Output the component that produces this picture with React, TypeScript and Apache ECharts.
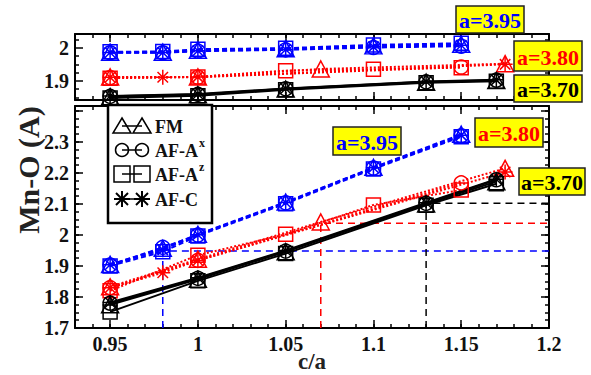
import React, { useEffect, useRef } from 'react';
import * as echarts from 'echarts';

const FONT = 'Liberation Serif, Times New Roman, serif';
const BLUE = '#0000ff';
const RED = '#ff0000';
const BLACK = '#000000';

// ---------- axes ----------
const xMin = 0.93;
const xMax = 1.2;
const xMajor = [0.95, 1.0, 1.05, 1.1, 1.15, 1.2];
const xMinor = Array.from({ length: 27 }, (_, i) => (94 + i) / 100);
const yTopMin = 1.842;
const yTopMax = 2.042;
const yTopMajor = [1.9, 2.0];
const yTopMinor = [1.85, 1.875, 1.925, 1.95, 1.975, 2.025];
const yBotMin = 1.7;
const yBotMax = 2.416;
const yBotMajor = [1.7, 1.8, 1.9, 2.0, 2.1, 2.2, 2.3, 2.4];
const yBotLabels = [1.7, 1.8, 1.9, 2.0, 2.1, 2.2, 2.3];
const yBotMinor = Array.from({ length: 29 }, (_, i) => Math.round((1.7 + i * 0.025) * 1000) / 1000);

// ---------- data: a = 3.95 (blue) ----------
const cBlue = [0.95, 0.98, 1.0, 1.05, 1.1, 1.15];
const blueFM = [1.905, 1.957, 2.002, 2.106, 2.218, 2.325];
const blueAx = [1.903, 1.960, 2.000, 2.104, 2.216, 2.320];
const blueAz = [1.900, 1.946, 1.997, 2.101, 2.213, 2.317];
const blueC = [1.904, 1.952, 2.001, 2.105, 2.217, 2.322];
const blueFMTop = [1.987, 1.987, 1.993, 1.997, 2.006, 2.011];
const blueAxTop = [1.985, 1.985, 1.990, 1.994, 2.001, 2.005];
const blueAzTop = [1.988, 1.989, 1.996, 1.999, 2.009, 2.014];
const blueCTop = [1.986, 1.986, 1.991, 1.995, 2.003, 2.008];

// ---------- data: a = 3.80 (red) ----------
const cRedFM = [0.95, 1.0, 1.07, 1.175];
const redFM = [1.833, 1.922, 2.042, 2.215];
const redFMTop = [1.912, 1.912, 1.936, 1.952];
const cRedAx = [0.95, 1.0, 1.15];
const redAx = [1.830, 1.918, 2.168];
const redAxTop = [1.910, 1.911, 1.942];
const cRedAz = [0.95, 1.0, 1.05, 1.1, 1.15];
const redAz = [1.820, 1.935, 2.002, 2.097, 2.145];
const redAzTop = [1.908, 1.912, 1.931, 1.935, 1.940];
const cRedC = [0.95, 0.98, 1.0, 1.175];
const redC = [1.830, 1.878, 1.918, 2.203];
const redCTop = [1.911, 1.911, 1.912, 1.950];

// ---------- data: a = 3.70 (black) ----------
const cBlack = [0.95, 1.0, 1.05, 1.13, 1.17];
const blackFM = [1.775, 1.857, 1.946, 2.100, 2.172];
const blackAx = [1.780, 1.860, 1.948, 2.102, 2.178];
const blackAz = [1.752, 1.852, 1.940, 2.096, 2.165];
const blackC = [1.782, 1.862, 1.950, 2.104, 2.180];
const blackFMTop = [1.852, 1.858, 1.875, 1.896, 1.901];
const blackAxTop = [1.853, 1.859, 1.876, 1.897, 1.902];
const blackAzTop = [1.848, 1.855, 1.873, 1.894, 1.899];
const blackCTop = [1.854, 1.860, 1.877, 1.898, 1.903];

// ---------- equilibrium guide lines ----------
const refC = [0.98, 1.07, 1.13];
const refV = [1.948, 2.038, 2.102];
const refColors = [BLUE, RED, BLACK];

const ASTERISK = 'path://M0,-10L0,10M-10,0L10,0M-7,-7L7,7M-7,7L7,-7';
const SYMBOLS: Record<string, [string, any]> = {
  FM: ['triangle', [17, 16]],
  AX: ['circle', 14],
  AZ: ['rect', 14],
  C: [ASTERISK, 15],
};

function mk(name: string, xs: number[], ys: number[], panel: number, color: string, dash: any, kind: string) {
  const [symbol, size] = SYMBOLS[kind];
  return {
    name,
    type: 'line',
    xAxisIndex: panel === 0 ? 0 : 4,
    yAxisIndex: panel === 0 ? 0 : 4,
    data: xs.map((x, i) => [x, ys[i]]),
    symbol,
    symbolSize: size,
    showSymbol: true,
    lineStyle: { color, width: 2, type: dash },
    itemStyle: { color: 'rgba(0,0,0,0)', borderColor: color, borderWidth: 1.5 },
    emphasis: { disabled: true },
    silent: true,
    z: 3,
  };
}

const BLUE_DASH = [5, 3];
const RED_DOT = [2, 2];

function xAx(gridIndex: number, position: string, ticks: number[], len: number, line: boolean, labels?: number[]) {
  return {
    type: 'value', gridIndex, position, min: xMin, max: xMax,
    axisLine: { show: line, onZero: false, lineStyle: { color: '#000', width: 2 } },
    axisTick: { show: true, inside: true, length: len, customValues: ticks, lineStyle: { color: '#000', width: 1.5 } },
    axisLabel: labels
      ? { show: true, customValues: labels, margin: 6, color: '#111', fontFamily: FONT, fontWeight: 'bold', fontSize: 20 }
      : { show: false },
    splitLine: { show: false },
  };
}
function yAx(gridIndex: number, position: string, min: number, max: number, ticks: number[], len: number, line: boolean, labels?: number[]) {
  return {
    type: 'value', gridIndex, position, min, max,
    axisLine: { show: line, onZero: false, lineStyle: { color: '#000', width: 2 } },
    axisTick: { show: true, inside: true, length: len, customValues: ticks, lineStyle: { color: '#000', width: 1.5 } },
    axisLabel: labels
      ? { show: true, customValues: labels, margin: 6, color: '#111', fontFamily: FONT, fontWeight: 'bold', fontSize: 20 }
      : { show: false },
    splitLine: { show: false },
  };
}

function yellowBox(label: string, color: string, x: number, y: number, w: number, h: number) {
  return [
    { type: 'rect', z: 100, shape: { x, y, width: w, height: h }, style: { fill: '#ffff00', stroke: '#222', lineWidth: 1.5 } },
    {
      type: 'text', z: 101, x: x + w / 2, y: y + h / 2 + 1,
      style: { text: label, fill: color, fontFamily: FONT, fontWeight: 'bold', fontSize: 22, align: 'center', verticalAlign: 'middle' },
    },
  ];
}

function legendItems() {
  const rows = [126, 150, 174, 199];
  const cx = [122, 142];
  const els: any[] = [
    { type: 'rect', z: 50, shape: { x: 108, y: 105, width: 104, height: 118 }, style: { fill: '#fff', stroke: '#000', lineWidth: 2.5 } },
  ];
  const lineStyle = { stroke: '#000', lineWidth: 1.5, fill: 'none' };
  rows.forEach((r) => {
    els.push({ type: 'line', z: 51, shape: { x1: cx[0], y1: r, x2: cx[1], y2: r }, style: lineStyle });
  });
  cx.forEach((c) => {
    els.push({ type: 'polygon', z: 52, shape: { points: [[c, rows[0] - 8], [c + 9, rows[0] + 7], [c - 9, rows[0] + 7]] }, style: lineStyle });
    els.push({ type: 'circle', z: 52, shape: { cx: c, cy: rows[1], r: 6.5 }, style: lineStyle });
    els.push({ type: 'rect', z: 52, shape: { x: c - 8, y: rows[2] - 8, width: 16, height: 16 }, style: lineStyle });
    const r = rows[3];
    [[0, -8, 0, 8], [-8, 0, 8, 0], [-6, -6, 6, 6], [-6, 6, 6, -6]].forEach(([a, b, d, e]) => {
      els.push({ type: 'line', z: 52, shape: { x1: c + a, y1: r + b, x2: c + d, y2: r + e }, style: { stroke: '#000', lineWidth: 2 } });
    });
  });
  const txt = (text: string, x: number, y: number, size: number) => ({
    type: 'text', z: 53, x, y,
    style: { text, fill: '#111', fontFamily: FONT, fontWeight: 'bold', fontSize: size, align: 'left', verticalAlign: 'middle' },
  });
  els.push(txt('FM', 155, rows[0] + 1, 18));
  els.push(txt('AF-A', 155, rows[1] + 1, 18));
  els.push(txt('x', 199, rows[1] - 7, 12));
  els.push(txt('AF-A', 155, rows[2] + 1, 18));
  els.push(txt('z', 199, rows[2] - 7, 12));
  els.push(txt('AF-C', 155, rows[3] + 1, 18));
  return els;
}

const series: any[] = [];
refC.forEach((c, i) => {
  series.push({
    type: 'line', xAxisIndex: 4, yAxisIndex: 4, symbol: 'none', silent: true, z: 2,
    data: [[c, yBotMin], [c, refV[i]], [xMax, refV[i]]],
    lineStyle: { color: refColors[i], width: 1.5, type: [7, 5] },
  });
});
// red a=3.80
series.push(mk('a3.80 FM', cRedFM, redFMTop, 0, RED, RED_DOT, 'FM'));
series.push(mk('a3.80 AF-Ax', cRedAx, redAxTop, 0, RED, RED_DOT, 'AX'));
series.push(mk('a3.80 AF-Az', cRedAz, redAzTop, 0, RED, RED_DOT, 'AZ'));
series.push(mk('a3.80 AF-C', cRedC, redCTop, 0, RED, RED_DOT, 'C'));
series.push(mk('a3.80 FM', cRedFM, redFM, 1, RED, RED_DOT, 'FM'));
series.push(mk('a3.80 AF-Ax', cRedAx, redAx, 1, RED, RED_DOT, 'AX'));
series.push(mk('a3.80 AF-Az', cRedAz, redAz, 1, RED, RED_DOT, 'AZ'));
series.push(mk('a3.80 AF-C', cRedC, redC, 1, RED, RED_DOT, 'C'));
// blue a=3.95
series.push(mk('a3.95 FM', cBlue, blueFMTop, 0, BLUE, BLUE_DASH, 'FM'));
series.push(mk('a3.95 AF-Ax', cBlue, blueAxTop, 0, BLUE, BLUE_DASH, 'AX'));
series.push(mk('a3.95 AF-Az', cBlue, blueAzTop, 0, BLUE, BLUE_DASH, 'AZ'));
series.push(mk('a3.95 AF-C', cBlue, blueCTop, 0, BLUE, BLUE_DASH, 'C'));
series.push(mk('a3.95 FM', cBlue, blueFM, 1, BLUE, BLUE_DASH, 'FM'));
series.push(mk('a3.95 AF-Ax', cBlue, blueAx, 1, BLUE, BLUE_DASH, 'AX'));
series.push(mk('a3.95 AF-Az', cBlue, blueAz, 1, BLUE, BLUE_DASH, 'AZ'));
series.push(mk('a3.95 AF-C', cBlue, blueC, 1, BLUE, BLUE_DASH, 'C'));
// black a=3.70
series.push(mk('a3.70 FM', cBlack, blackFMTop, 0, BLACK, 'solid', 'FM'));
series.push(mk('a3.70 AF-Ax', cBlack, blackAxTop, 0, BLACK, 'solid', 'AX'));
series.push(mk('a3.70 AF-Az', cBlack, blackAzTop, 0, BLACK, 'solid', 'AZ'));
series.push(mk('a3.70 AF-C', cBlack, blackCTop, 0, BLACK, 'solid', 'C'));
series.push(mk('a3.70 FM', cBlack, blackFM, 1, BLACK, 'solid', 'FM'));
series.push(mk('a3.70 AF-Ax', cBlack, blackAx, 1, BLACK, 'solid', 'AX'));
series.push(mk('a3.70 AF-Az', cBlack, blackAz, 1, BLACK, 'solid', 'AZ'));
series.push(mk('a3.70 AF-C', cBlack, blackC, 1, BLACK, 'solid', 'C'));

const option: any = {
  animation: false,
  backgroundColor: '#fff',
  grid: [
    { left: 75, right: 42, top: 34, height: 66 },
    { left: 75, right: 42, top: 106, height: 222 },
  ],
  xAxis: [
    xAx(0, 'bottom', xMajor, 8, true),
    xAx(0, 'bottom', xMinor, 4, false),
    xAx(0, 'top', xMajor, 8, true),
    xAx(0, 'top', xMinor, 4, false),
    xAx(1, 'bottom', xMajor, 8, true, xMajor),
    xAx(1, 'bottom', xMinor, 4, false),
    xAx(1, 'top', xMajor, 8, true),
    xAx(1, 'top', xMinor, 4, false),
  ],
  yAxis: [
    yAx(0, 'left', yTopMin, yTopMax, yTopMajor, 8, true, yTopMajor),
    yAx(0, 'left', yTopMin, yTopMax, yTopMinor, 4, false),
    yAx(0, 'right', yTopMin, yTopMax, yTopMajor, 8, true),
    yAx(0, 'right', yTopMin, yTopMax, yTopMinor, 4, false),
    yAx(1, 'left', yBotMin, yBotMax, yBotMajor, 8, true, yBotLabels),
    yAx(1, 'left', yBotMin, yBotMax, yBotMinor, 4, false),
    yAx(1, 'right', yBotMin, yBotMax, yBotMajor, 8, true),
    yAx(1, 'right', yBotMin, yBotMax, yBotMinor, 4, false),
  ],
  series,
  graphic: [
    ...legendItems(),
    ...yellowBox('a=3.95', BLUE, 456, 6, 68, 27),
    ...yellowBox('a=3.80', RED, 514, 41, 68, 30),
    ...yellowBox('a=3.70', BLACK, 514, 75, 68, 27),
    ...yellowBox('a=3.95', BLUE, 333, 127, 68, 28),
    ...yellowBox('a=3.80', RED, 475, 118, 68, 29),
    ...yellowBox('a=3.70', BLACK, 519, 168, 66, 27),
    {
      type: 'text', z: 100, x: 28, y: 170, rotation: Math.PI / 2,
      style: { text: 'Mn-O (A)', fill: '#222', fontFamily: FONT, fontWeight: 'bold', fontSize: 30, align: 'center', verticalAlign: 'middle' },
    },
    {
      type: 'text', z: 100, x: 312, y: 361,
      style: { text: 'c/a', fill: '#222', fontFamily: FONT, fontWeight: 'bold', fontSize: 23, align: 'center', verticalAlign: 'middle' },
    },
  ],
};

export default function App() {
  const ref = useRef<HTMLDivElement>(null);
  useEffect(() => {
    document.body.style.margin = '0';
    const chart = echarts.init(ref.current as HTMLDivElement, null, { renderer: 'svg' });
    chart.setOption(option);
    return () => chart.dispose();
  }, []);
  return <div ref={ref} style={{ position: 'fixed', left: 0, top: 0, width: 591, height: 375, background: '#fff' }} />;
}
